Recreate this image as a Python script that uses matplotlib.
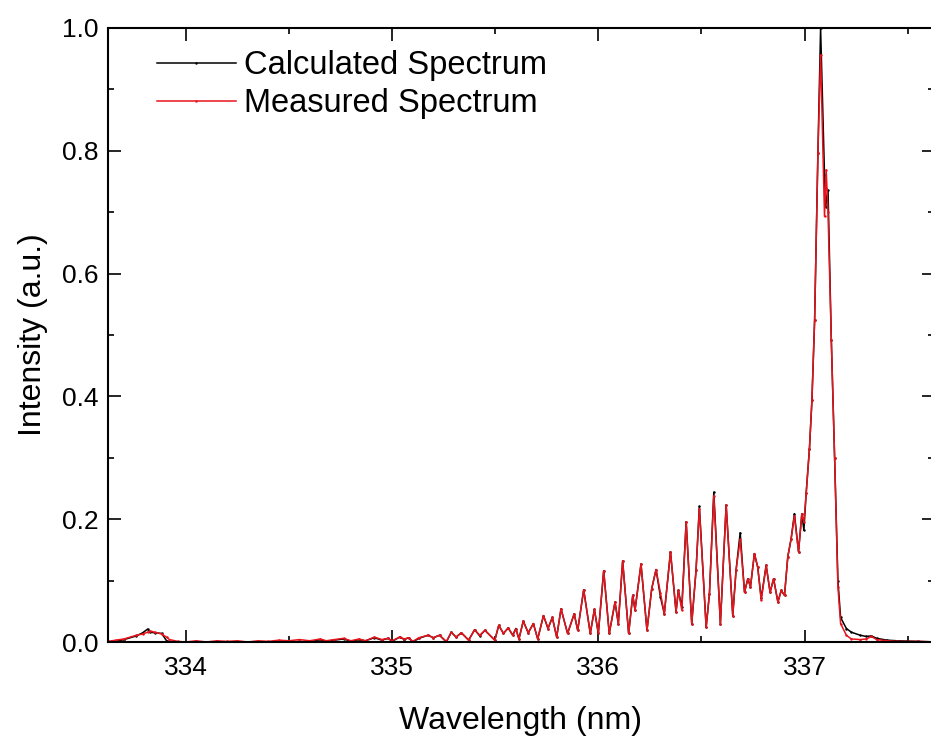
import matplotlib
matplotlib.use("Agg")
import matplotlib.pyplot as plt
from matplotlib.ticker import MultipleLocator

plt.rcParams['font.family'] = ['Liberation Sans', 'DejaVu Sans']

# wavelength grid (nm), shared by both spectra
wavelength = [
    333.62, 333.66, 333.70, 333.76, 333.79, 333.814, 333.826, 333.849, 333.882, 333.906,
    333.92, 333.96, 334.00, 334.05, 334.10, 334.15, 334.20, 334.25, 334.30, 334.35,
    334.40, 334.45, 334.50, 334.55, 334.60, 334.652, 334.68, 334.72, 334.765, 334.80,
    334.84, 334.87, 334.914, 334.95, 334.98, 335.00, 335.036, 335.06, 335.08, 335.10,
    335.13, 335.174, 335.20, 335.23, 335.263, 335.287, 335.31, 335.336, 335.371, 335.40,
    335.425, 335.45, 335.498, 335.517, 335.54, 335.563, 335.585, 335.60, 335.615, 335.636,
    335.66, 335.685, 335.706, 335.734, 335.756, 335.777, 335.798, 335.819, 335.851, 335.883,
    335.90, 335.929, 335.961, 335.981, 336.00, 336.026, 336.053, 336.081, 336.097, 336.118,
    336.147, 336.167, 336.178, 336.207, 336.236, 336.259, 336.28, 336.301, 336.32, 336.35,
    336.377, 336.388, 336.405, 336.426, 336.453, 336.474, 336.49, 336.523, 336.539, 336.56,
    336.592, 336.62, 336.652, 336.668, 336.688, 336.709, 336.725, 336.738, 336.757, 336.773,
    336.79, 336.814, 336.833, 336.85, 336.871, 336.887, 336.903, 336.919, 336.935, 336.951,
    336.971, 336.987, 336.997, 337.008, 337.024, 337.036, 337.049, 337.065, 337.078, 337.097,
    337.102, 337.105, 337.114, 337.13, 337.146, 337.162, 337.175, 337.203, 337.227, 337.27,
    337.30, 337.324, 337.35, 337.40, 337.45, 337.55, 337.65,
]

calculated = [
    0.000, 0.001, 0.004, 0.010, 0.015, 0.021, 0.016, 0.015, 0.014, 0.002,
    0.000, 0.000, 0.000, 0.000, 0.000, 0.000, 0.000, 0.000, 0.000, 0.000,
    0.000, 0.001, 0.000, 0.001, 0.000, 0.004, 0.001, 0.003, 0.005, 0.001,
    0.004, 0.002, 0.007, 0.003, 0.006, 0.001, 0.008, 0.004, 0.007, 0.000,
    0.006, 0.011, 0.007, 0.011, 0.000, 0.016, 0.008, 0.015, 0.003, 0.020,
    0.010, 0.019, 0.003, 0.027, 0.014, 0.023, 0.011, 0.022, 0.005, 0.034,
    0.015, 0.030, 0.005, 0.043, 0.022, 0.040, 0.008, 0.054, 0.014, 0.046,
    0.019, 0.085, 0.014, 0.053, 0.014, 0.116, 0.014, 0.065, 0.030, 0.132,
    0.014, 0.076, 0.052, 0.127, 0.019, 0.087, 0.118, 0.074, 0.046, 0.147,
    0.049, 0.084, 0.057, 0.196, 0.030, 0.117, 0.221, 0.024, 0.079, 0.244,
    0.030, 0.223, 0.043, 0.117, 0.178, 0.081, 0.103, 0.090, 0.144, 0.122,
    0.071, 0.125, 0.081, 0.103, 0.065, 0.084, 0.076, 0.139, 0.168, 0.209,
    0.147, 0.209, 0.182, 0.242, 0.315, 0.394, 0.524, 0.796, 1.000, 0.760,
    0.709, 0.720, 0.736, 0.492, 0.300, 0.100, 0.040, 0.022, 0.016, 0.011,
    0.009, 0.010, 0.006, 0.003, 0.002, 0.001, 0.000,
]

measured = [
    0.001, 0.003, 0.005, 0.011, 0.013, 0.016, 0.018, 0.016, 0.013, 0.008,
    0.004, 0.001, 0.000, 0.002, 0.000, 0.002, 0.001, 0.002, 0.000, 0.002,
    0.001, 0.003, 0.002, 0.004, 0.002, 0.005, 0.002, 0.004, 0.006, 0.002,
    0.005, 0.002, 0.008, 0.004, 0.006, 0.002, 0.008, 0.005, 0.007, 0.001,
    0.007, 0.011, 0.007, 0.011, 0.001, 0.016, 0.008, 0.015, 0.003, 0.020,
    0.011, 0.019, 0.003, 0.027, 0.014, 0.023, 0.011, 0.021, 0.005, 0.034,
    0.015, 0.030, 0.005, 0.043, 0.022, 0.040, 0.008, 0.054, 0.014, 0.046,
    0.019, 0.085, 0.014, 0.053, 0.014, 0.116, 0.014, 0.065, 0.030, 0.132,
    0.014, 0.076, 0.052, 0.127, 0.019, 0.087, 0.118, 0.080, 0.046, 0.147,
    0.049, 0.084, 0.052, 0.196, 0.030, 0.117, 0.217, 0.024, 0.079, 0.238,
    0.030, 0.223, 0.043, 0.117, 0.167, 0.081, 0.103, 0.090, 0.144, 0.122,
    0.068, 0.125, 0.081, 0.103, 0.065, 0.084, 0.076, 0.139, 0.168, 0.205,
    0.147, 0.209, 0.195, 0.242, 0.315, 0.394, 0.524, 0.796, 0.956, 0.693,
    0.740, 0.769, 0.700, 0.492, 0.300, 0.090, 0.030, 0.011, 0.005, 0.004,
    0.005, 0.009, 0.004, 0.002, 0.001, 0.001, 0.000,
]

series_labels = ['Calculated Spectrum', 'Measured Spectrum']

fig = plt.figure(figsize=(9.31, 7.36), dpi=100)
ax = fig.add_axes([0.116, 0.1277, 0.887, 0.8343])

ax.plot(wavelength, calculated, color='black', lw=1.1, marker='.', ms=1.5, label=series_labels[0])
ax.plot(wavelength, measured, color='#e8141c', lw=1.1, marker='.', ms=1.5, label=series_labels[1])

ax.set_xlim(333.622, 337.627)
ax.set_ylim(0, 1.0)
ax.xaxis.set_major_locator(MultipleLocator(1))
ax.xaxis.set_minor_locator(MultipleLocator(0.5))
ax.yaxis.set_minor_locator(MultipleLocator(0.1))
ax.set_yticks([0, 0.2, 0.4, 0.6, 0.8, 1.0])
ax.set_yticklabels(['0.0', '0.2', '0.4', '0.6', '0.8', '1.0'])

ax.tick_params(which='both', direction='in', top=True, right=True, width=1.2, labelsize=19)
ax.tick_params(which='major', length=9)
ax.tick_params(which='minor', length=4.5)
ax.tick_params(axis='x', which='major', pad=10)
ax.tick_params(axis='y', which='major', pad=7)
for sp in ax.spines.values():
    sp.set_linewidth(1.5)

ax.set_xlabel('Wavelength (nm)', fontsize=23, labelpad=19)
ax.set_ylabel('Intensity (a.u.)', fontsize=23, labelpad=10)

leg = ax.legend(loc='upper left', bbox_to_anchor=(0.024, 1.012), frameon=False, fontsize=23.5,
                handlelength=2.4, handletextpad=0.25, labelspacing=0.22)

fig.savefig('out.png', dpi=100)
